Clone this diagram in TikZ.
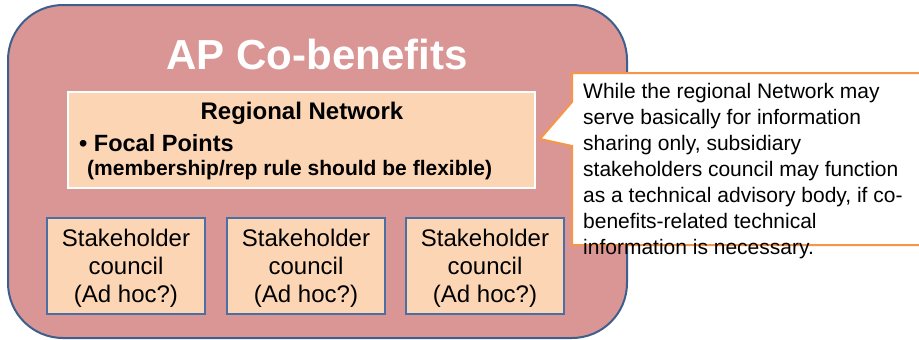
\documentclass[tikz,border=0pt]{standalone}
\usepackage{fontspec}
\setmainfont{Liberation Sans}
\definecolor{bigfill}{HTML}{D99694}
\definecolor{bigline}{HTML}{3E5F8E}
\definecolor{peach}{HTML}{FCD5B5}
\definecolor{boxline}{HTML}{4A6FA5}
\definecolor{callline}{HTML}{F79646}
\tikzset{
  councilbox/.style={draw=boxline, line width=2pt, fill=peach, minimum width=158pt, minimum height=96pt, inner sep=0pt},
  counciltext/.style={align=center, inner sep=0pt, font=\fontsize{24}{28}\selectfont},
}
\begin{document}
\begin{tikzpicture}[x=1pt,y=-1pt]
\useasboundingbox (0,0) rectangle (919,340);
\clip (0,0) rectangle (919,340);
% outer rounded rectangle
\draw[fill=bigfill, draw=bigline, line width=2pt, rounded corners=55pt] (8,5) rectangle (627,338);
\node[font=\fontsize{42}{42}\bfseries, text=white] (title) at (317,54) {AP Co-benefits};
% regional network box
\node[draw=white, line width=2pt, fill=peach, minimum width=467pt, minimum height=96pt, inner sep=0pt] (regional) at (301.5,140) {};
\node[font=\fontsize{24}{24}\bfseries] (rn) at (302,113) {Regional Network};
\node[font=\fontsize{23.5}{24}\bfseries, anchor=west, inner sep=0pt] (fp) at (79,143) {\textbullet\ Focal Points};
\node[font=\fontsize{21}{21}\bfseries, anchor=west, inner sep=0pt] (mr) at (87,170) {(membership/rep rule should be flexible)};
% stakeholder councils
\node[councilbox] (c1) at (126,266) {};
\node[councilbox] (c2) at (306,266) {};
\node[councilbox] (c3) at (485,266) {};
\node[counciltext] (t1) at (126,268) {Stakeholder\\council\\(Ad hoc?)};
\node[counciltext] (t2) at (306,268) {Stakeholder\\council\\(Ad hoc?)};
\node[counciltext] (t3) at (485,268) {Stakeholder\\council\\(Ad hoc?)};
% callout
\coordinate (tip) at (540,139);
\draw[fill=white, draw=callline, line width=2pt] (935,73) -- (572,73) -- (572,102) -- (tip) -- (572,146) -- (572,245) -- (935,245);
\node[anchor=north west, inner sep=0pt, align=left, font=\fontsize{21}{26}\selectfont] (note) at (583,83) {While the regional Network may\\serve basically for information\\sharing only, subsidiary\\stakeholders council may function\\as a technical advisory body, if co-\\benefits-related technical\\information is necessary.};
\end{tikzpicture}
\end{document}
